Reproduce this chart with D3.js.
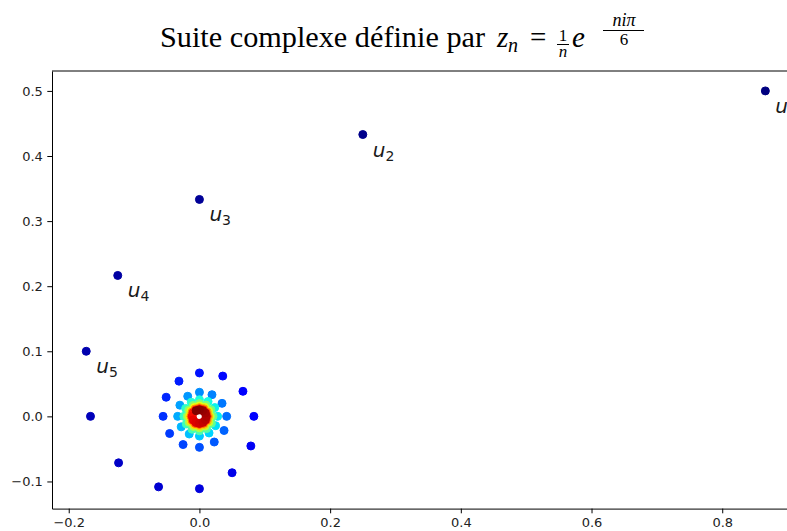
<!DOCTYPE html>
<html>
<head>
<meta charset="utf-8">
<script src="https://cdn.jsdelivr.net/npm/d3@7"></script>
<style>
body { margin: 0; background: #fff; }
svg { display: block; background: #fff; }
.axis text { font-family: "DejaVu Sans", sans-serif; font-size: 13px; fill: #222; }
.axis path, .axis line { stroke: #000; stroke-width: 1; }
.title { font-family: "Liberation Serif", serif; fill: #000; }
</style>
</head>
<body>
<svg width="787" height="531"></svg>
<script>
// z_n = (1/n) e^(n i pi / 6), n = 1..100 (one turn of 12 points per line)
var re = [
  0.866, 0.25, 0, -0.125, -0.1732, -0.1667, -0.1237, -0.0625, 0, 0.05, 0.0787, 0.0833,
  0.0666, 0.0357, 0, -0.0313, -0.0509, -0.0556, -0.0456, -0.025, 0, 0.0227, 0.0377, 0.0417,
  0.0346, 0.0192, 0, -0.0179, -0.0299, -0.0333, -0.0279, -0.0156, 0, 0.0147, 0.0247, 0.0278,
  0.0234, 0.0132, 0, -0.0125, -0.0211, -0.0238, -0.0201, -0.0114, 0, 0.0109, 0.0184, 0.0208,
  0.0177, 0.01, 0, -0.0096, -0.0163, -0.0185, -0.0157, -0.0089, 0, 0.0086, 0.0147, 0.0167,
  0.0142, 0.0081, 0, -0.0078, -0.0133, -0.0152, -0.0129, -0.0074, 0, 0.0071, 0.0122, 0.0139,
  0.0119, 0.0068, 0, -0.0066, -0.0112, -0.0128, -0.011, -0.0063, 0, 0.0061, 0.0104, 0.0119,
  0.0102, 0.0058, 0, -0.0057, -0.0097, -0.0111, -0.0095, -0.0054, 0, 0.0053, 0.0091, 0.0104,
  0.0089, 0.0051, 0, -0.005
];
var im = [
  0.5, 0.433, 0.3333, 0.2165, 0.1, 0, -0.0714, -0.1083, -0.1111, -0.0866, -0.0455, 0,
  0.0385, 0.0619, 0.0667, 0.0541, 0.0294, 0, -0.0263, -0.0433, -0.0476, -0.0394, -0.0217, 0,
  0.02, 0.0333, 0.037, 0.0309, 0.0172, 0, -0.0161, -0.0271, -0.0303, -0.0255, -0.0143, 0,
  0.0135, 0.0228, 0.0256, 0.0217, 0.0122, 0, -0.0116, -0.0197, -0.0222, -0.0188, -0.0106, 0,
  0.0102, 0.0173, 0.0196, 0.0167, 0.0094, 0, -0.0091, -0.0155, -0.0175, -0.0149, -0.0085, 0,
  0.0082, 0.014, 0.0159, 0.0135, 0.0077, 0, -0.0075, -0.0127, -0.0145, -0.0124, -0.007, 0,
  0.0068, 0.0117, 0.0133, 0.0114, 0.0065, 0, -0.0063, -0.0108, -0.0123, -0.0106, -0.006, 0,
  0.0059, 0.0101, 0.0115, 0.0098, 0.0056, 0, -0.0055, -0.0094, -0.0108, -0.0092, -0.0053, 0,
  0.0052, 0.0088, 0.0101, 0.0087
];
var labels = ["1", "2", "3", "4", "5"];
var xTicks = [-0.2, 0, 0.2, 0.4, 0.6, 0.8];
var yTicks = [-0.1, 0, 0.1, 0.2, 0.3, 0.4, 0.5];

var svg = d3.select("svg");

var x = d3.scaleLinear().domain([-0.2256, 0.9184]).range([52, 799.6]);
var y = d3.scaleLinear().domain([-0.1417, 0.5306]).range([508.6, 71]);

// matplotlib "jet"
var jr = d3.scaleLinear().domain([0, 0.35, 0.66, 0.89, 1]).range([0, 0, 1, 1, 0.5]).clamp(true);
var jg = d3.scaleLinear().domain([0, 0.125, 0.375, 0.64, 0.91, 1]).range([0, 0, 1, 1, 0, 0]).clamp(true);
var jb = d3.scaleLinear().domain([0, 0.11, 0.34, 0.65, 1]).range([0.5, 1, 1, 0, 0]).clamp(true);
function jet(t) { return d3.rgb(jr(t) * 255, jg(t) * 255, jb(t) * 255).toString(); }
var norm = d3.scaleLinear().domain([0, re.length - 1]).range([0, 1]);

// axes
svg.append("g")
    .attr("class", "axis")
    .attr("transform", "translate(52,0)")
    .call(d3.axisLeft(y).tickValues(yTicks).tickFormat(d3.format(".1f"))
        .tickSize(4.7).tickSizeOuter(0).tickPadding(4.5));

svg.append("g")
    .attr("class", "axis")
    .attr("transform", "translate(0,508.6)")
    .call(d3.axisBottom(x).tickValues(xTicks).tickFormat(d3.format(".1f"))
        .tickSize(4.7).tickSizeOuter(0).tickPadding(4.5));

svg.append("line")
    .attr("x1", 52).attr("x2", 799.6)
    .attr("y1", 71).attr("y2", 71)
    .attr("stroke", "#000").attr("stroke-width", 1);

// points
svg.append("g")
    .selectAll("circle")
    .data(re)
    .enter().append("circle")
    .attr("cx", function(d) { return x(d); })
    .attr("cy", function(d, i) { return y(im[i]); })
    .attr("r", 4)
    .attr("fill", function(d, i) { return jet(norm(i)); })
    .attr("stroke", function(d, i) { return jet(norm(i)); })
    .attr("stroke-width", 1);

// u_n labels
var lab = svg.append("g")
    .selectAll("text")
    .data(labels)
    .enter().append("text")
    .attr("x", function(d, i) { return x(re[i]) + 10; })
    .attr("y", function(d, i) { return y(im[i]) + 22; })
    .attr("font-family", "DejaVu Sans, sans-serif")
    .attr("fill", "#1a1a1a");
lab.append("tspan")
    .attr("font-size", 20)
    .attr("font-style", "italic")
    .text("u");
lab.append("tspan")
    .attr("font-size", 14)
    .attr("dy", 4)
    .text(function(d) { return d; });

// title
var t = svg.append("g").attr("class", "title");
t.append("text").attr("x", 160).attr("y", 47).attr("font-size", 29)
    .attr("textLength", 325).attr("lengthAdjust", "spacingAndGlyphs")
    .text("Suite complexe définie par");
t.append("text").attr("x", 497).attr("y", 47).attr("font-size", 29)
    .attr("font-style", "italic").text("z");
t.append("text").attr("x", 508).attr("y", 52).attr("font-size", 20)
    .attr("font-style", "italic").text("n");
t.append("text").attr("x", 530).attr("y", 47).attr("font-size", 29).text("=");
t.append("text").attr("x", 563).attr("y", 41).attr("font-size", 17)
    .attr("text-anchor", "middle").text("1");
t.append("line").attr("x1", 557).attr("x2", 569).attr("y1", 44.5).attr("y2", 44.5)
    .attr("stroke", "#000").attr("stroke-width", 1);
t.append("text").attr("x", 563).attr("y", 57).attr("font-size", 17)
    .attr("text-anchor", "middle").attr("font-style", "italic").text("n");
t.append("text").attr("x", 572).attr("y", 47).attr("font-size", 29)
    .attr("font-style", "italic").text("e");
t.append("text").attr("x", 624).attr("y", 26).attr("font-size", 18)
    .attr("text-anchor", "middle").attr("font-style", "italic").text("niπ");
t.append("line").attr("x1", 603).attr("x2", 644).attr("y1", 30.5).attr("y2", 30.5)
    .attr("stroke", "#000").attr("stroke-width", 1);
t.append("text").attr("x", 624).attr("y", 45).attr("font-size", 17)
    .attr("text-anchor", "middle").text("6");
</script>
</body>
</html>
